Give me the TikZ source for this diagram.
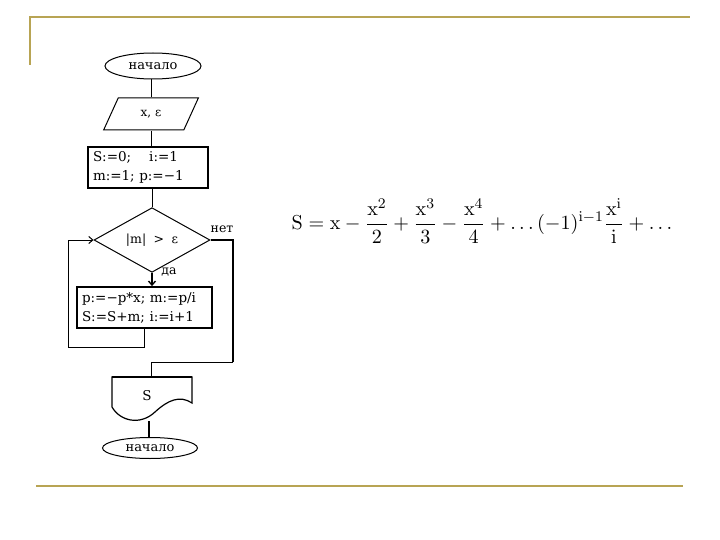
\documentclass[tikz,border=0pt]{standalone}
\usepackage[no-math]{fontspec}
\setmainfont{DejaVu Serif}
\usetikzlibrary{shapes.geometric,arrows.meta}
\definecolor{gold}{RGB}{184,164,84}
\begin{document}
\begin{tikzpicture}[x=1pt,y=-1pt,line width=1pt,
  font=\fontsize{12}{14}\selectfont,
  term/.style={ellipse,draw,minimum width=96pt,minimum height=26pt,inner sep=0pt,font=\fontsize{13}{15}\selectfont},
  io/.style={trapezium,draw,trapezium left angle=60,trapezium right angle=120,trapezium stretches=true,minimum width=95pt,minimum height=32pt,inner sep=0pt},
  proc/.style={rectangle,draw,line width=1.8pt,align=left,inner xsep=5pt,inner ysep=2pt,font=\fontsize{13.5}{19}\selectfont},
  dec/.style={diamond,draw,minimum width=116pt,minimum height=54pt,inner sep=0pt,font=\fontsize{12.5}{14}\selectfont},
  arr/.style={-{Straight Barb[length=4pt,width=7pt]}},
  lbl/.style={inner sep=0pt,font=\fontsize{12.5}{14}\selectfont}]
\useasboundingbox (0,0) rectangle (720,540);
% frame lines
\draw[gold,line width=1.5pt] (30,65) -- (30,17) -- (690,17);
\draw[gold,line width=2.3pt] (36,486) -- (683,486);
% nodes
\node[term] (start) at (153,66) {начало};
\node[io] (in) at (151,114) {x, ε};
\node[proc,text width=110pt,minimum height=41pt] (init) at (148,167.5) {S:=0;\quad\ i:=1\\m:=1; p:=−1};
\node[dec] (cond) at (152,240) {|m| \;>\; ε};
\node[proc,text width=125pt,minimum height=41pt] (body) at (144.5,307.5) {p:=−p*x; m:=p/i\\S:=S+m; i:=i+1};
\draw[line width=1.2pt] (112,377) -- (192,377) -- (192,403)
  .. controls (180,395) and (168,400) .. (155,412)
  .. controls (140,426) and (120,421) .. (112,407) -- cycle;
\draw[line width=2pt] (112,377) -- (192,377);
\node[lbl,font=\fontsize{13.5}{15}\selectfont] (out) at (147,396) {S};
\coordinate (outtop) at (151,377);
\coordinate (outbot) at (149,421);
\node[term,minimum width=95pt,minimum height=21pt] (end) at (150,448) {начало};
\node[lbl] (no) at (222,229) {нет};
\node[lbl] (yes) at (169,272) {да};
\coordinate (lp) at (68,347);
\coordinate (rp) at (233,362);
% connectors
\draw (start.south -| in.north) -- (in.north);
\draw (in.south) -- (in.south |- init.north);
\draw (cond.north |- init.south) -- (cond.north);
\draw[arr,line width=1.4pt] (cond.south) -- (cond.south |- body.north);
\draw[arr] (body.south) |- (lp) |- (cond.west);
\draw[line width=2.2pt] (cond.east) -| (rp);
\draw (rp) -| (outtop);
\draw[line width=1.6pt] (outbot) -- (outbot |- end.north);
% formula
\node[scale=1.84,font=\fontsize{11}{13}\selectfont] (formula) at (482,221) {$\displaystyle \mathrm{S} = \mathrm{x} - \frac{\mathrm{x}^2}{2} + \frac{\mathrm{x}^3}{3} - \frac{\mathrm{x}^4}{4} + \ldots (-1)^{\mathrm{i}-1}\frac{\mathrm{x}^{\mathrm{i}}}{\mathrm{i}} + \ldots$};
\end{tikzpicture}
\end{document}
